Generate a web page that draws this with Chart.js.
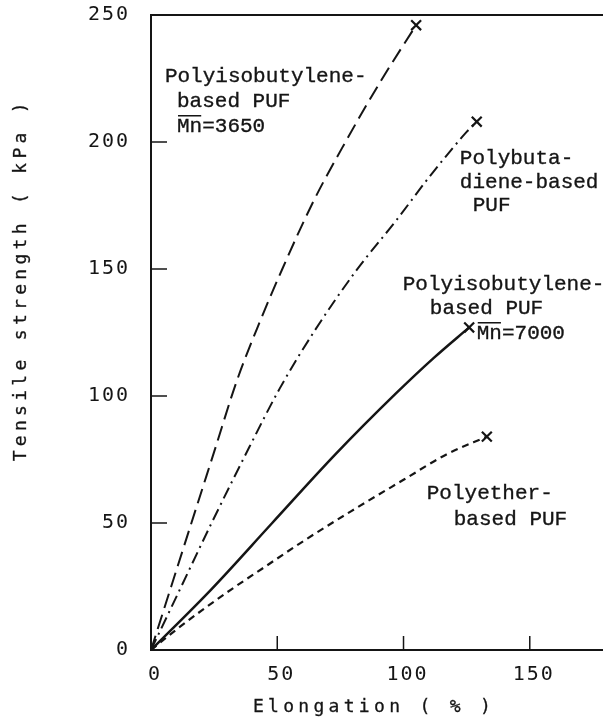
<!DOCTYPE html>
<html>
<head>
<meta charset="utf-8">
<title>Tensile strength vs elongation of PUF</title>
<script src="https://cdn.jsdelivr.net/npm/chart.js@4/dist/chart.umd.min.js"></script>
<style>
  html, body { margin: 0; padding: 0; background: #fff; }
  canvas { display: block; }
</style>
</head>
<body>
<canvas id="chart" width="603" height="723"></canvas>
<script>
// elongation (%) and tensile strength (kPa)
const pib3650X = [0, 8, 16, 25, 34, 43, 52, 64, 77, 91, 105];
const pib3650Y = [0, 25, 50, 78, 106, 129, 150, 176, 200, 224, 246];

const pbdX = [0, 12, 24, 39, 51, 65, 81, 97, 110, 119, 125, 129];
const pbdY = [0, 25, 50, 80, 103, 126, 149, 169, 186, 197, 204, 208];

const pib7000X = [0, 24, 48, 73, 97, 112, 126];
const pib7000Y = [0, 24, 50, 77, 101, 115, 127];

const polyetherX = [0, 10, 20, 32, 44, 59, 79, 100, 117, 133];
const polyetherY = [0, 8, 15.5, 24, 32, 42, 54.5, 67, 77, 84];

const xTicks = [0, 50, 100, 150];
const yTicks = [0, 50, 100, 150, 200, 250];

// curve labels, anchored in data units (left edge, middle of line)
const notes = [
  { text: "Polyisobutylene-", x: 5.5, y: 226 },
  { text: "based PUF", x: 10.3, y: 216 },
  { text: "Mn=3650", x: 10.3, y: 206, bar: 2 },
  { text: "Polybuta-", x: 122.3, y: 193.5 },
  { text: "diene-based", x: 122.3, y: 184 },
  { text: "PUF", x: 127.4, y: 175 },
  { text: "Polyisobutylene-", x: 99.7, y: 144 },
  { text: "based PUF", x: 110.4, y: 134.5 },
  { text: "Mn=7000", x: 129, y: 124.5, bar: 2 },
  { text: "Polyether-", x: 109.2, y: 61.5 },
  { text: "based PUF", x: 119.9, y: 51.5 },
];

const INK = "#151515";

function toPoints(xs, ys) {
  return xs.map((x, i) => ({ x: x, y: ys[i] }));
}

// only the break point at the end of each curve gets a cross
function endMarker(ctx) {
  return ctx.dataIndex === ctx.dataset.data.length - 1 ? 7 : 0;
}

function curve(label, xs, ys, dash, width) {
  return {
    label: label,
    data: toPoints(xs, ys),
    borderColor: INK,
    borderWidth: width,
    borderDash: dash,
    fill: false,
    showLine: true,
    cubicInterpolationMode: "monotone",
    pointStyle: "crossRot",
    pointRadius: endMarker,
    pointBorderWidth: 2.2,
    pointBorderColor: INK,
    pointBackgroundColor: INK,
  };
}

function typeText(ctx, text, x, y) {
  ctx.fillText(text, x, y);
  ctx.strokeText(text, x, y); // a little heavier, like the typewritten original
}

const paperPlugin = {
  id: "paper",
  beforeDraw(chart) {
    chart.ctx.letterSpacing = "2px"; // wide spacing for tick numbers
  },
  afterDraw(chart) {
    const ctx = chart.ctx;
    const area = chart.chartArea;
    const xs = chart.scales.x;
    const ys = chart.scales.y;

    ctx.save();
    ctx.strokeStyle = INK;
    ctx.lineWidth = 2;

    // top frame line
    ctx.beginPath();
    ctx.moveTo(area.left, area.top);
    ctx.lineTo(chart.width, area.top);
    ctx.stroke();

    // inward tick marks
    ctx.lineWidth = 1.5;
    xTicks.slice(1).forEach((v) => {
      const px = xs.getPixelForValue(v);
      ctx.beginPath();
      ctx.moveTo(px, area.bottom);
      ctx.lineTo(px, area.bottom - 14);
      ctx.stroke();
    });
    yTicks.slice(1, -1).forEach((v) => {
      const py = ys.getPixelForValue(v);
      ctx.beginPath();
      ctx.moveTo(area.left, py);
      ctx.lineTo(area.left + 16, py);
      ctx.stroke();
    });

    // curve labels
    ctx.fillStyle = INK;
    ctx.letterSpacing = "0px";
    ctx.font = "21px 'Liberation Mono', monospace";
    ctx.textAlign = "left";
    ctx.textBaseline = "middle";
    notes.forEach((n) => {
      const px = xs.getPixelForValue(n.x);
      const py = ys.getPixelForValue(n.y);
      ctx.lineWidth = 0.35;
      typeText(ctx, n.text, px, py);
      if (n.bar) {
        const w = ctx.measureText(n.text.slice(0, n.bar)).width;
        ctx.lineWidth = 1.5;
        ctx.beginPath();
        ctx.moveTo(px + 1, py - 11);
        ctx.lineTo(px + w - 1, py - 11);
        ctx.stroke();
      }
    });

    // axis titles
    ctx.font = "18px 'DejaVu Sans Mono', monospace";
    ctx.letterSpacing = "4.3px";
    ctx.textAlign = "center";
    ctx.lineWidth = 0.3;
    typeText(ctx, "Elongation ( % )", (area.left + area.right) / 2 - 3, chart.height - 16);
    ctx.translate(21, ys.getPixelForValue(145));
    ctx.rotate(-Math.PI / 2);
    typeText(ctx, "Tensile strength ( kPa )", 2, 0);
    ctx.restore();
  },
};

new Chart(document.getElementById("chart"), {
  type: "scatter",
  data: {
    datasets: [
      curve("Polyisobutylene-based PUF Mn=3650", pib3650X, pib3650Y, [15, 7], 2),
      curve("Polybutadiene-based PUF", pbdX, pbdY, [12, 5, 2, 5], 2),
      curve("Polyisobutylene-based PUF Mn=7000", pib7000X, pib7000Y, [], 2.5),
      curve("Polyether-based PUF", polyetherX, polyetherY, [7, 5], 2.2),
    ],
  },
  options: {
    responsive: false,
    animation: false,
    layout: { autoPadding: false, padding: { top: 15, right: 0, left: 0, bottom: 0 } },
    plugins: {
      legend: { display: false },
      tooltip: { enabled: false },
    },
    scales: {
      x: {
        type: "linear",
        min: 0,
        max: 179,
        afterBuildTicks: (s) => {
          s.ticks = xTicks.map((v) => ({ value: v }));
        },
        afterFit: (s) => {
          s.height = 73;
          s.paddingLeft = 0;
          s.paddingRight = 0;
        },
        grid: { display: false, drawTicks: false },
        border: { display: true, color: INK, width: 2 },
        ticks: {
          padding: 13,
          color: INK,
          labelOffset: 4,
          maxRotation: 0,
          font: { family: "'DejaVu Sans Mono', monospace", size: 20 },
        },
      },
      y: {
        type: "linear",
        min: 0,
        max: 250,
        afterBuildTicks: (s) => {
          s.ticks = yTicks.map((v) => ({ value: v }));
        },
        afterFit: (s) => {
          s.width = 151;
          s.paddingTop = 0;
          s.paddingBottom = 0;
        },
        grid: { display: false, drawTicks: false },
        border: { display: true, color: INK, width: 2 },
        ticks: {
          padding: 21,
          color: INK,
          font: { family: "'DejaVu Sans Mono', monospace", size: 20 },
        },
      },
    },
  },
  plugins: [paperPlugin],
});
</script>
</body>
</html>
